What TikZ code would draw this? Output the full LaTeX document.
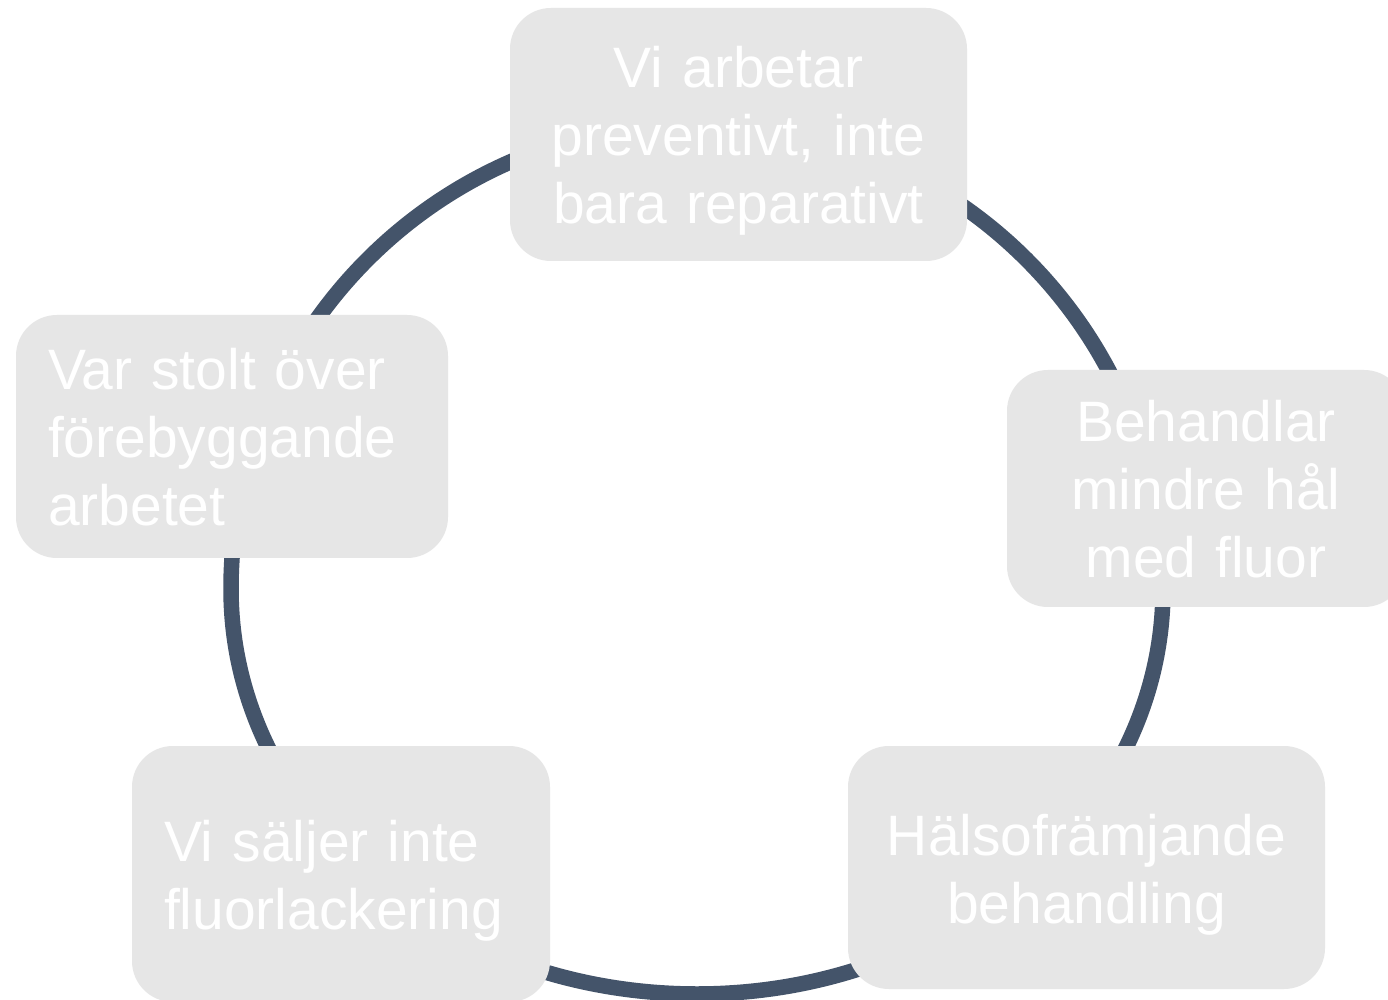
\documentclass[tikz,border=0pt]{standalone}
\usepackage{fontspec}
\setmainfont{Liberation Sans}
\definecolor{ringcol}{HTML}{44546A}
\definecolor{boxfill}{HTML}{E6E6E6}
\newcommand{\ls}{\rule[-12pt]{0pt}{67pt}}
\tikzset{
  cyclebox/.style={rectangle, rounded corners=41pt, fill=boxfill, text=white,
    inner xsep=32pt, inner ysep=0pt, font=\fontsize{57}{68}\selectfont},
  ring/.style={draw=ringcol, line width=15.5pt},
}
\begin{document}
\begin{tikzpicture}[x=1pt,y=1pt]
\useasboundingbox (0,0) rectangle (1388,999);
\fill[white] (0,0) rectangle (1388,999);
\clip (0,0) rectangle (1388,999);
\coordinate (ringc) at (697,410);
\draw[ring] ([xshift=-466pt]ringc) arc[start angle=180, end angle=0, radius=466]
  arc[start angle=0, end angle=-180, x radius=466, y radius=405];
\node[cyclebox, minimum width=457pt, minimum height=253pt, text width=393pt, align=center]
  (top) at (738.5,864.5) {Vi arbetar\ls\\preventivt, inte\ls\\bara reparativt\ls};
\node[cyclebox, minimum width=398pt, minimum height=237pt, text width=334pt, align=center]
  (right) at (1206,510.5) {Behandlar\ls\\mindre hål\ls\\med fluor\ls};
\node[cyclebox, minimum width=477pt, minimum height=243pt, text width=413pt, align=center]
  (botright) at (1086.5,131.5) {Hälsofrämjande\ls\\behandling\ls};
\node[cyclebox, minimum width=418pt, minimum height=256pt, text width=354pt, align=left]
  (botleft) at (341,125) {Vi säljer inte\ls\\fluorlackering\ls};
\node[cyclebox, minimum width=432pt, minimum height=243pt, text width=368pt, align=left]
  (left) at (232,562.5) {Var stolt över\ls\\förebyggande\ls\\arbetet\ls};
\end{tikzpicture}
\end{document}
